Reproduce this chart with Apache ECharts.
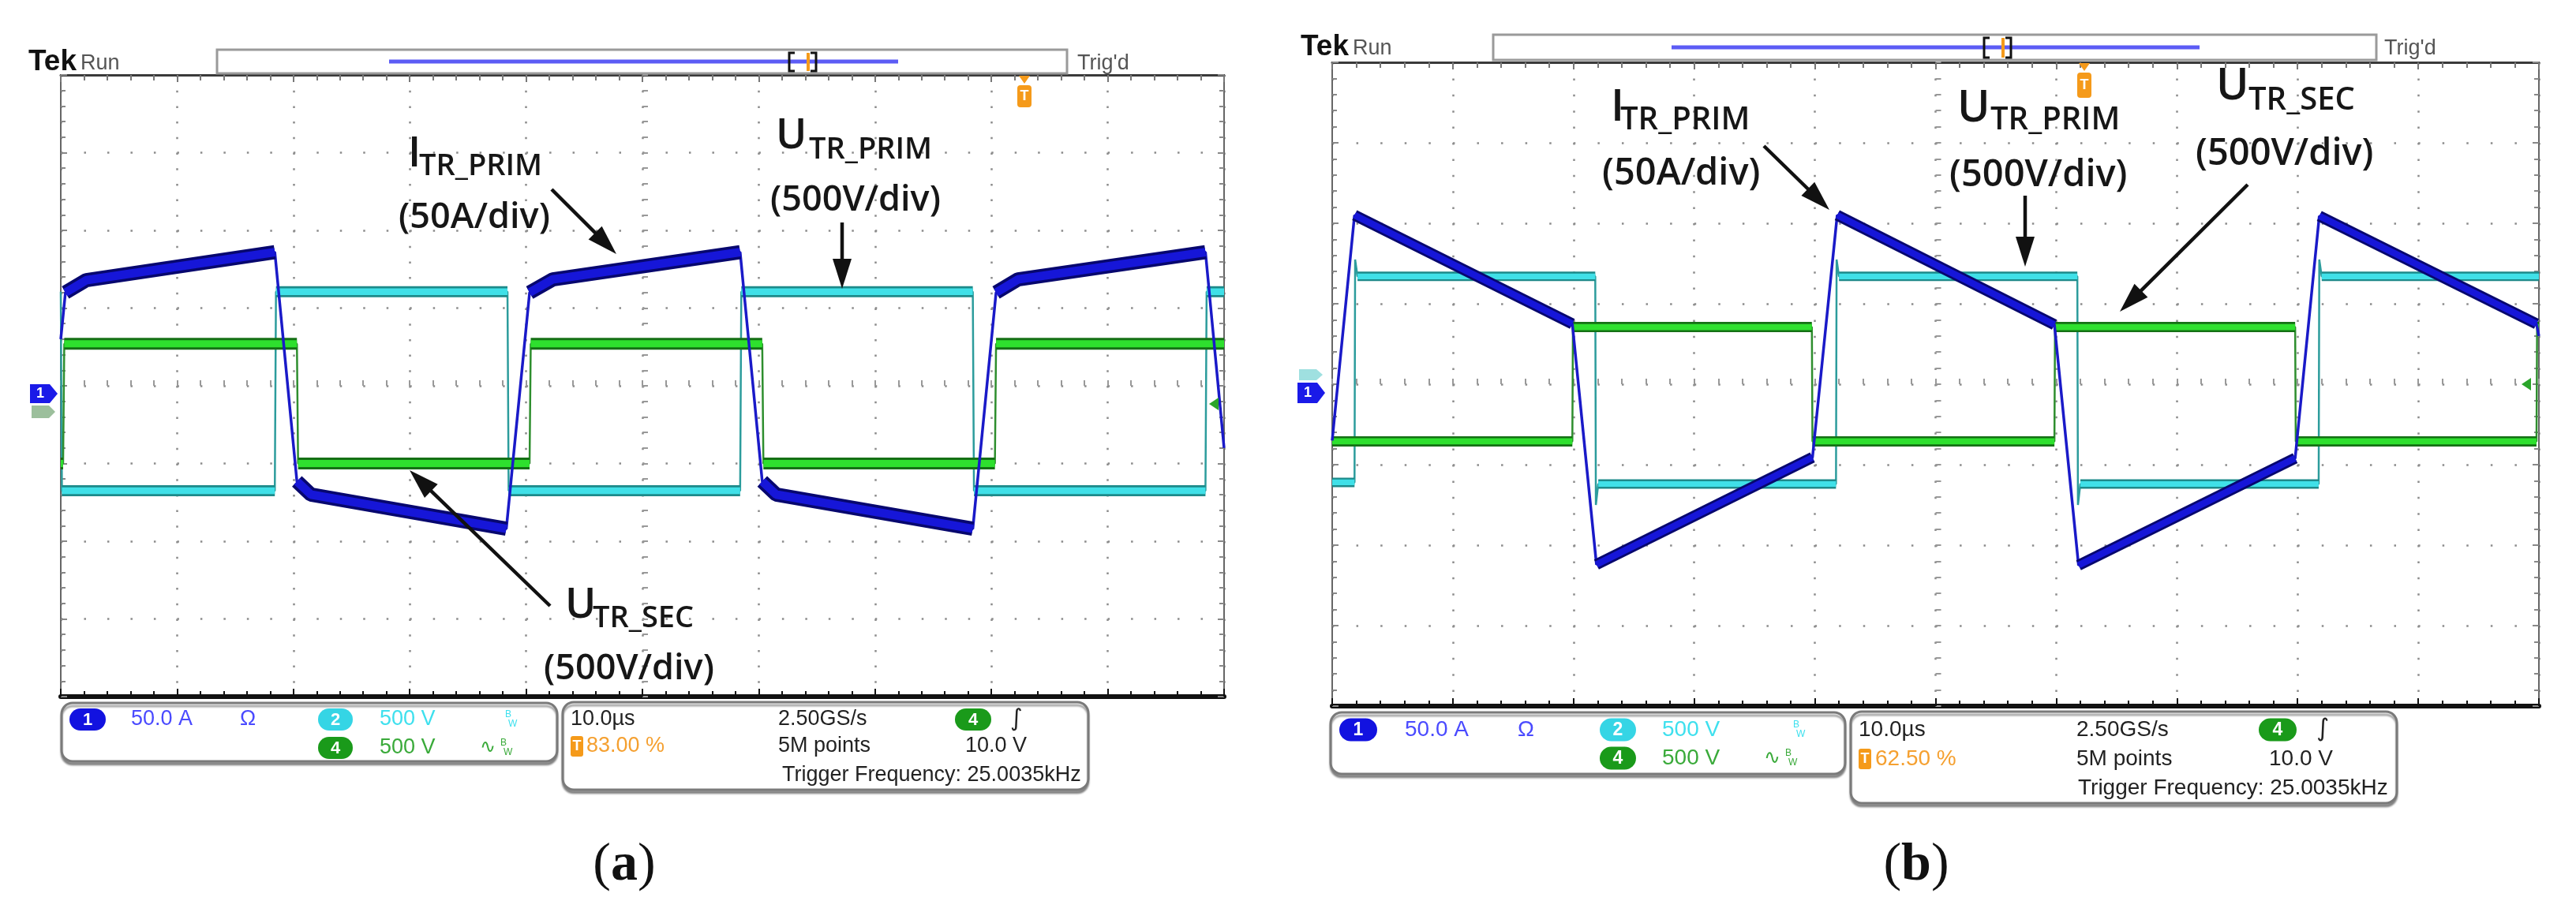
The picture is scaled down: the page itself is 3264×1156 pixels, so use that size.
<!DOCTYPE html>
<html>
<head>
<meta charset="utf-8">
<title>Transformer waveforms (a) / (b)</title>
<script src="https://cdn.jsdelivr.net/npm/echarts@6/dist/echarts.min.js"></script>
<style>
  html, body { margin: 0; padding: 0; background: #fff; }
  #chart { width: 3264px; height: 1156px; }
</style>
</head>
<body>
<div id="chart"></div>
<script>
// time in us (10 us/div, 10 div), value in screen divisions (-4..4)

// (a) I_TR_PRIM (ch1), U_TR_PRIM (ch2), U_TR_SEC (ch4)
const aIT = [0, 0.4, 2.2, 18.4, 20.3, 21.5, 38.3, 40.3, 42.3, 58.4, 60.3, 61.5, 78.4, 80.4, 82.3, 98.4, 100];
const aIV = [0.6, 1.2, 1.36, 1.72, -1.23, -1.4, -1.84, 1.2, 1.37, 1.72, -1.23, -1.4, -1.84, 1.2, 1.37, 1.72, -0.8];
const aUpT = [0, 0.1, 18.4, 18.5, 38.4, 38.5, 58.4, 58.5, 78.4, 78.5, 98.4, 98.5, 100];
const aUpV = [1.21, -1.35, -1.35, 1.21, 1.21, -1.35, -1.35, 1.21, 1.21, -1.35, -1.35, 1.21, 1.21];
const aUsT = [0, 0.2, 0.3, 20.3, 20.4, 40.3, 40.4, 60.3, 60.4, 80.3, 80.4, 100];
const aUsV = [-1.0, -1.0, 0.54, 0.54, -1.0, -1.0, 0.54, 0.54, -1.0, -1.0, 0.54, 0.54];

// (b)
const bIT = [0, 1.85, 19.9, 21.9, 39.8, 41.85, 59.85, 61.85, 79.8, 81.8, 99.8, 100];
const bIV = [-0.7, 2.1, 0.75, -2.24, -0.91, 2.1, 0.74, -2.25, -0.92, 2.09, 0.75, 0.6];
const bUpT = [0, 1.85, 1.9, 2.1, 21.8, 21.85, 22.05, 41.75, 41.8, 42.0, 61.75, 61.8, 62.0, 81.75, 81.8, 82.0, 100];
const bUpV = [-1.22, -1.22, 1.55, 1.34, 1.34, -1.5, -1.24, -1.24, 1.55, 1.34, 1.34, -1.5, -1.24, -1.24, 1.55, 1.34, 1.34];
const bUsT = [0, 19.9, 19.95, 39.75, 39.8, 59.85, 59.9, 79.8, 79.85, 99.8, 99.85, 100];
const bUsV = [-0.71, -0.71, 0.71, 0.71, -0.71, -0.71, 0.71, 0.71, -0.71, -0.71, 0.71, 0.71];

const NOTE_FONT = '"Open Sans", "Noto Sans", sans-serif';
const SCOPE_FONT = '"Liberation Sans", Arial, sans-serif';

const gridA = { left: 77, top: 95, width: 1474, height: 788 };
const gridB = { left: 1688, top: 79, width: 1529, height: 816 };

const blue = { thin: '#1a1ac8', thinW: 3.5, dark: '#07076e', core: '#1616d8' };
const cyan = { thin: '#2c9c9c', thinW: 2.5, dark: '#1d8a8a', core: '#40e0e8' };
const green = { thin: '#2e8e2e', thinW: 2.5, dark: '#157015', core: '#2ee02e' };

// only the slow parts of a trace show the thick noise band
function bandData(ts, vs) {
  const out = [];
  let last = -1;
  for (let i = 0; i < ts.length - 1; i++) {
    const slope = Math.abs(vs[i + 1] - vs[i]) / (ts[i + 1] - ts[i]);
    if (slope < 0.5) {
      if (last !== i) out.push([ts[i], vs[i]]);
      out.push([ts[i + 1], vs[i + 1]]);
      last = i + 1;
    } else {
      out.push([ts[i], '-']);
    }
  }
  return out;
}

function traces(xi, yi, ts, vs, c, bandW) {
  const full = ts.map(function (t, i) { return [t, vs[i]]; });
  const band = bandData(ts, vs);
  const base = { type: 'line', xAxisIndex: xi, yAxisIndex: yi, symbol: 'none', silent: true, animation: false, connectNulls: false };
  return [
    Object.assign({}, base, { data: full, lineStyle: { color: c.thin, width: c.thinW } }),
    Object.assign({}, base, { data: band, lineStyle: { color: c.dark, width: bandW, cap: 'butt' } }),
    Object.assign({}, base, { data: band, lineStyle: { color: c.core, width: bandW * 0.6, cap: 'butt' } })
  ];
}

function panelAxes(gi, g) {
  const vDot = g.height / 40, hDot = g.width / 50;
  const noLabel = { show: false };
  const xs = [
    { gridIndex: gi, type: 'value', min: 0, max: 100, interval: 10, position: 'bottom',
      axisLine: { onZero: false, lineStyle: { color: '#111', width: 6 } },
      axisTick: { inside: true, length: 10, lineStyle: { color: '#111', width: 2 } },
      minorTick: { show: true, splitNumber: 5, length: 7, lineStyle: { color: '#111', width: 2 } },
      axisLabel: noLabel,
      splitLine: { show: true, lineStyle: { color: '#8c8c8c', width: 2.5, type: [2.5, vDot - 2.5] } } },
    { gridIndex: gi, type: 'value', min: 0, max: 100, interval: 10, position: 'top',
      axisLine: { onZero: false, lineStyle: { color: '#3a3a3a', width: 3 } },
      axisTick: { inside: true, length: 9, lineStyle: { color: '#777', width: 2 } },
      minorTick: { show: true, splitNumber: 5, length: 7, lineStyle: { color: '#777', width: 2 } },
      axisLabel: noLabel, splitLine: { show: false } },
    { gridIndex: gi, type: 'value', min: 0, max: 100, interval: 10, position: 'bottom', offset: -g.height / 2,
      axisLine: { show: false, onZero: false },
      axisTick: { inside: true, length: 7, lineStyle: { color: '#999', width: 2 } },
      minorTick: { show: true, splitNumber: 5, length: 7, lineStyle: { color: '#999', width: 2 } },
      axisLabel: noLabel, splitLine: { show: false } }
  ];
  const ys = [
    { gridIndex: gi, type: 'value', min: -4, max: 4, interval: 1, position: 'left',
      axisLine: { onZero: false, lineStyle: { color: '#666', width: 2 } },
      axisTick: { inside: true, length: 8, lineStyle: { color: '#888', width: 2 } },
      minorTick: { show: true, splitNumber: 5, length: 6, lineStyle: { color: '#888', width: 2 } },
      axisLabel: noLabel,
      splitLine: { show: true, lineStyle: { color: '#8c8c8c', width: 2.5, type: [2.5, hDot - 2.5] } } },
    { gridIndex: gi, type: 'value', min: -4, max: 4, interval: 1, position: 'right',
      axisLine: { onZero: false, lineStyle: { color: '#666', width: 2 } },
      axisTick: { inside: true, length: 8, lineStyle: { color: '#888', width: 2 } },
      minorTick: { show: true, splitNumber: 5, length: 6, lineStyle: { color: '#888', width: 2 } },
      axisLabel: noLabel, splitLine: { show: false } },
    { gridIndex: gi, type: 'value', min: -4, max: 4, interval: 1, position: 'left', offset: -g.width / 2,
      axisLine: { show: false, onZero: false },
      axisTick: { inside: true, length: 7, lineStyle: { color: '#999', width: 2 } },
      minorTick: { show: true, splitNumber: 5, length: 7, lineStyle: { color: '#999', width: 2 } },
      axisLabel: noLabel, splitLine: { show: false } }
  ];
  return { x: xs, y: ys };
}

// ---- graphic helpers ----
function text(x, y, s, size, color, extra) {
  return { type: 'text', x: x, y: y, z: 100, silent: true,
    style: Object.assign({ text: s, fontSize: size, fill: color, fontFamily: SCOPE_FONT, align: 'left', verticalAlign: 'middle' }, extra || {}) };
}
function note(x, y, s, size) {
  return text(x, y, s, size, '#161616', { fontFamily: NOTE_FONT, fontWeight: 600 });
}
function arrow(x1, y1, x2, y2) {
  const len = Math.hypot(x2 - x1, y2 - y1);
  const ux = (x2 - x1) / len, uy = (y2 - y1) / len;
  const hl = 38, hw = 12;
  const bx = x2 - ux * hl, by = y2 - uy * hl;
  return [
    { type: 'line', z: 100, silent: true, shape: { x1: x1, y1: y1, x2: bx + ux * 4, y2: by + uy * 4 }, style: { stroke: '#111', lineWidth: 4.5 } },
    { type: 'polygon', z: 100, silent: true, shape: { points: [[x2, y2], [bx - uy * hw, by + ux * hw], [bx + uy * hw, by - ux * hw]] }, style: { fill: '#111' } }
  ];
}
function box(x, y, w, h) {
  return { type: 'rect', z: 90, silent: true, shape: { x: x, y: y, width: w, height: h, r: 14 },
    style: { fill: '#fff', stroke: '#7a7a7a', lineWidth: 3, shadowColor: 'rgba(0,0,0,0.35)', shadowOffsetY: 4, shadowBlur: 2 } };
}
function badge(cx, cy, n, color, w, h) {
  return [
    { type: 'rect', z: 100, silent: true, shape: { x: cx - w / 2, y: cy - h / 2, width: w, height: h, r: h / 2 }, style: { fill: color } },
    text(cx, cy + 1, n, h - 6, '#fff', { align: 'center', fontWeight: 'bold' })
  ];
}
function bw(x, y, color) {
  return [text(x, y - 6, 'B', 12, color), text(x + 4, y + 6, 'W', 12, color)];
}
function tBadge(x, y) {
  return [
    { type: 'rect', z: 100, silent: true, shape: { x: x, y: y - 13, width: 16, height: 26, r: 3 }, style: { fill: '#f59a1a' } },
    text(x + 8, y, 'T', 18, '#fff', { align: 'center', fontWeight: 'bold' })
  ];
}
function topBar(tekX, y, barX, barW, barY, barH, blueX1, blueX2, brX, trigX) {
  const by = barY + barH / 2;
  return [
    text(tekX, y, 'Tek', 37, '#111', { fontWeight: 'bold' }),
    text(tekX + 66, y + 2, 'Run', 27, '#555'),
    { type: 'rect', z: 100, silent: true, shape: { x: barX, y: barY, width: barW, height: barH }, style: { fill: '#fff', stroke: '#9a9a9a', lineWidth: 3 } },
    { type: 'line', z: 100, silent: true, shape: { x1: blueX1, y1: by, x2: blueX2, y2: by }, style: { stroke: '#5c5cf5', lineWidth: 5 } },
    { type: 'polyline', z: 101, silent: true, shape: { points: [[brX + 7, barY + 4], [brX, barY + 4], [brX, barY + barH - 3], [brX + 7, barY + barH - 3]] }, style: { stroke: '#111', lineWidth: 3, fill: null } },
    { type: 'polyline', z: 101, silent: true, shape: { points: [[brX + 27, barY + 4], [brX + 34, barY + 4], [brX + 34, barY + barH - 3], [brX + 27, barY + barH - 3]] }, style: { stroke: '#111', lineWidth: 3, fill: null } },
    { type: 'line', z: 101, silent: true, shape: { x1: brX + 24, y1: barY + 4, x2: brX + 24, y2: barY + barH - 3 }, style: { stroke: '#f59a1a', lineWidth: 4 } },
    text(trigX, y + 2, "Trig'd", 27, '#555')
  ];
}
function trigMark(x, y, h) {
  return [
    { type: 'polygon', z: 100, silent: true, shape: { points: [[x - 7, y], [x + 7, y], [x, y + 10]] }, style: { fill: '#f59a1a' } },
    { type: 'rect', z: 100, silent: true, shape: { x: x - 9, y: y + 12, width: 18, height: h, r: 4 }, style: { fill: '#f59a1a' } },
    text(x, y + 12 + h / 2, 'T', 18, '#fff', { align: 'center', fontWeight: 'bold' })
  ];
}
function caption(cx, cy, letter) {
  return { type: 'text', x: cx, y: cy, z: 100, silent: true,
    style: { text: '{p|(}{b|' + letter + '}{p|)}', align: 'center', verticalAlign: 'middle',
      rich: { p: { fontSize: 68, fontFamily: '"Liberation Serif", serif', fill: '#111' },
              b: { fontSize: 68, fontFamily: '"Liberation Serif", serif', fontWeight: 'bold', fill: '#111' } } } };
}

const axA = panelAxes(0, gridA);
const axB = panelAxes(1, gridB);

const graphics = [].concat(
  // ---------- panel (a) ----------
  topBar(36, 79, 275, 1077, 63, 30, 493, 1138, 1000, 1365),
  trigMark(1298, 96, 28),
  [
    { type: 'polygon', z: 100, silent: true, shape: { points: [[38, 487], [63, 487], [73, 499], [63, 511], [38, 511]] }, style: { fill: '#1a1ae8' } },
    text(51, 499, '1', 18, '#fff', { align: 'center', fontWeight: 'bold' }),
    { type: 'polygon', z: 99, silent: true, shape: { points: [[40, 514], [62, 514], [70, 522], [62, 530], [40, 530]] }, style: { fill: '#9cbf9c' } },
    { type: 'polygon', z: 100, silent: true, shape: { points: [[1532, 512], [1544, 504], [1544, 520]] }, style: { fill: '#2aa52a' } },
    note(517, 196, 'I', 53), note(531, 211, 'TR_PRIM', 38), note(505, 276, '(50A/div)', 45),
    note(983, 173, 'U', 53), note(1025, 190, 'TR_PRIM', 38), note(976, 254, '(500V/div)', 45),
    note(716, 768, 'U', 53), note(751, 784, 'TR_SEC', 38), note(689, 848, '(500V/div)', 45)
  ],
  arrow(699, 240, 781, 322),
  arrow(1067, 282, 1067, 366),
  arrow(697, 768, 519, 596),
  [box(78, 891, 628, 74)],
  badge(111, 912, '1', '#1212e0', 46, 28),
  [text(166, 912, '50.0 A', 27, '#4a4aff'), text(304, 912, 'Ω', 27, '#4a4aff')],
  badge(425, 912, '2', '#35d5e5', 44, 28),
  [text(481, 912, '500 V', 27, '#3ee0ee')],
  bw(640, 912, '#3ee0ee'),
  badge(425, 948, '4', '#1a9a1a', 44, 28),
  [text(481, 948, '500 V', 27, '#3aaa3a'), text(608, 948, '∿', 24, '#3aaa3a', { fontFamily: 'DejaVu Sans' })],
  bw(634, 948, '#3aaa3a'),
  [box(713, 890, 666, 111), text(723, 912, '10.0µs', 27, '#222')],
  tBadge(723, 946),
  [text(743, 946, '83.00 %', 27, '#f5a030'),
   text(986, 912, '2.50GS/s', 27, '#222'), text(986, 946, '5M points', 27, '#222'),
   text(991, 983, 'Trigger Frequency: 25.0035kHz', 27, '#222')],
  badge(1233, 912, '4', '#1a9a1a', 46, 28),
  [text(1280, 912, '∫', 30, '#222', { fontFamily: 'DejaVu Sans' }), text(1223, 946, '10.0 V', 27, '#222')],
  [caption(791, 1097, 'a')],

  // ---------- panel (b) ----------
  topBar(1648, 60, 1892, 1119, 44, 32, 2118, 2787, 2514, 3021),
  trigMark(2641, 80, 32),
  [
    { type: 'polygon', z: 99, silent: true, shape: { points: [[1646, 468], [1668, 468], [1676, 475], [1668, 482], [1646, 482]] }, style: { fill: '#9fe0e0' } },
    { type: 'polygon', z: 100, silent: true, shape: { points: [[1644, 485], [1669, 485], [1679, 498], [1669, 511], [1644, 511]] }, style: { fill: '#1a1ae8' } },
    text(1657, 498, '1', 18, '#fff', { align: 'center', fontWeight: 'bold' }),
    { type: 'polygon', z: 100, silent: true, shape: { points: [[3195, 487], [3207, 479], [3207, 495]] }, style: { fill: '#2aa52a' } },
    note(2041, 137, 'I', 56), note(2053, 153, 'TR_PRIM', 40), note(2030, 221, '(50A/div)', 47),
    note(2480, 138, 'U', 56), note(2522, 153, 'TR_PRIM', 40), note(2470, 223, '(500V/div)', 47),
    note(2808, 110, 'U', 56), note(2849, 128, 'TR_SEC', 40), note(2782, 196, '(500V/div)', 47)
  ],
  arrow(2235, 185, 2318, 266),
  arrow(2566, 248, 2566, 338),
  arrow(2848, 234, 2686, 395),
  [box(1686, 903, 652, 78)],
  badge(1721, 925, '1', '#1212e0', 48, 29),
  [text(1780, 925, '50.0 A', 28, '#4a4aff'), text(1923, 925, 'Ω', 28, '#4a4aff')],
  badge(2050, 925, '2', '#35d5e5', 46, 29),
  [text(2106, 925, '500 V', 28, '#3ee0ee')],
  bw(2272, 925, '#3ee0ee'),
  badge(2050, 961, '4', '#1a9a1a', 46, 29),
  [text(2106, 961, '500 V', 28, '#3aaa3a'), text(2235, 961, '∿', 25, '#3aaa3a', { fontFamily: 'DejaVu Sans' })],
  bw(2262, 961, '#3aaa3a'),
  [box(2345, 902, 692, 116), text(2355, 925, '10.0µs', 28, '#222')],
  tBadge(2355, 962),
  [text(2376, 962, '62.50 %', 28, '#f5a030'),
   text(2631, 925, '2.50GS/s', 28, '#222'), text(2631, 962, '5M points', 28, '#222'),
   text(2633, 999, 'Trigger Frequency: 25.0035kHz', 28, '#222')],
  badge(2886, 925, '4', '#1a9a1a', 48, 29),
  [text(2935, 925, '∫', 31, '#222', { fontFamily: 'DejaVu Sans' }), text(2875, 962, '10.0 V', 28, '#222')],
  [caption(2428, 1097, 'b')]
);

const chart = echarts.init(document.getElementById('chart'), null, { width: 3264, height: 1156, renderer: 'canvas' });

const option = {
  backgroundColor: '#fff',
  animation: false,
  grid: [
    Object.assign({ containLabel: false, outerBoundsMode: 'none', show: false }, gridA),
    Object.assign({ containLabel: false, outerBoundsMode: 'none', show: false }, gridB)
  ],
  xAxis: axA.x.concat(axB.x),
  yAxis: axA.y.concat(axB.y),
  series: [].concat(
    traces(0, 0, aUpT, aUpV, cyan, 14),
    traces(0, 0, aUsT, aUsV, green, 15),
    traces(0, 0, aIT, aIV, blue, 18),
    traces(3, 3, bUpT, bUpV, cyan, 12),
    traces(3, 3, bUsT, bUsV, green, 13),
    traces(3, 3, bIT, bIV, blue, 14)
  ),
  graphic: graphics
};

chart.setOption(option);
</script>
</body>
</html>
